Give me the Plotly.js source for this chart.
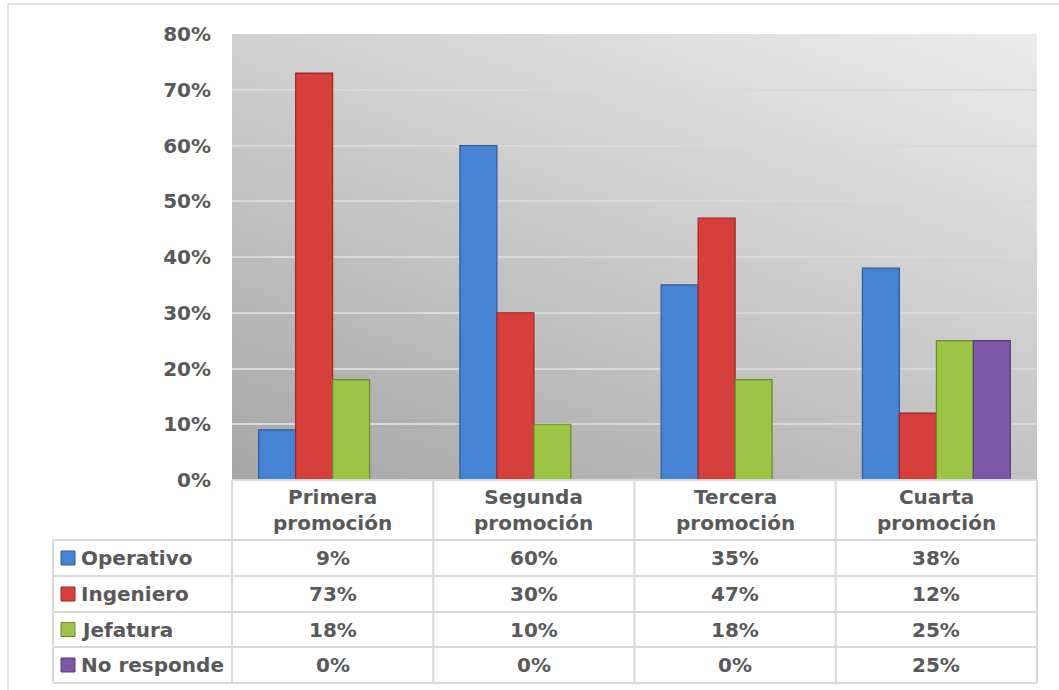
<!DOCTYPE html>
<html>
<head>
<meta charset="utf-8">
<script src="https://cdn.plot.ly/plotly-3.0.1.min.js"></script>
<style>html,body{margin:0;padding:0;background:#fff;}#chart{width:1059px;height:690px;}</style>
</head>
<body>
<div id="chart"></div>
<script>
// ---- data ----
const categories = ['Primera promoción', 'Segunda promoción', 'Tercera promoción', 'Cuarta promoción'];
const categoryLabels = ['Primera<br>promoción', 'Segunda<br>promoción', 'Tercera<br>promoción', 'Cuarta<br>promoción'];
const seriesNames = ['Operativo', 'Ingeniero', 'Jefatura', 'No responde'];
const operativo = [0.09, 0.60, 0.35, 0.38];
const ingeniero = [0.73, 0.30, 0.47, 0.12];
const jefatura = [0.18, 0.10, 0.18, 0.25];
const noResponde = [0.00, 0.00, 0.00, 0.25];
const yTicks = [0, 0.1, 0.2, 0.3, 0.4, 0.5, 0.6, 0.7, 0.8];

// ---- style ----
const seriesValues = [operativo, ingeniero, jefatura, noResponde];
const fills = ['#4683d3', '#d63f3b', '#9dc545', '#7d58a8'];
const edges = ['#2a5a9e', '#9c2624', '#6a8a25', '#553a7c'];
const FONT = 'DejaVu Sans, Arial, sans-serif';
const TXT = '#595959';
const GRID = '#d9d9d9';

const W = 1059, H = 690;
const L = 232, R = 1037, T = 34, B = 480;
const px = p => (p - L) / (R - L);
const py = p => (B - p) / (B - T);

const traces = seriesNames.map((name, i) => ({
  type: 'bar',
  name: name,
  x: categories,
  y: seriesValues[i],
  marker: {
    color: fills[i],
    line: { color: edges[i], width: seriesValues[i].map(v => v > 0 ? 1.2 : 0) }
  },
  hoverinfo: 'skip'
}));

const shapes = [];
const annotations = [];
const line = (x0, y0, x1, y1, color, w) => shapes.push({
  type: 'line', xref: 'paper', yref: 'paper',
  x0: px(x0), y0: py(y0), x1: px(x1), y1: py(y1),
  line: { color: color || GRID, width: w || 2 }, layer: 'above'
});

// outer chart border
line(8, 4, 1062, 4, '#d9d9d9', 1.5);
line(8, 4, 8, 694, '#d9d9d9', 1.5);

// data table grid
const colX = [0, 1, 2, 3, 4].map(k => L + k * (R - L) / 4);
const rowY = [540, 576, 612, 647, 683];
line(L, B, R, B);
rowY.forEach(y => line(53, y, R, y));
line(53, rowY[0], 53, rowY[rowY.length - 1]);
colX.forEach(x => line(x, B, x, rowY[rowY.length - 1]));

// header labels
categoryLabels.forEach((lab, k) => annotations.push({
  xref: 'paper', yref: 'paper', x: px((colX[k] + colX[k + 1]) / 2), y: py(510),
  text: lab, showarrow: false, xanchor: 'center', yanchor: 'middle',
  font: { family: FONT, size: 20, color: TXT, weight: 'bold' }
}));

// rows
seriesNames.forEach((name, i) => {
  const yc = (rowY[i] + rowY[i + 1]) / 2;
  shapes.push({
    type: 'rect', xref: 'paper', yref: 'paper',
    x0: px(61), x1: px(75), y0: py(yc - 7), y1: py(yc + 7),
    fillcolor: fills[i], line: { color: edges[i], width: 1 }, layer: 'above'
  });
  annotations.push({
    xref: 'paper', yref: 'paper', x: px(79), y: py(yc),
    text: name, showarrow: false, xanchor: 'left', yanchor: 'middle',
    font: { family: FONT, size: 20, color: TXT, weight: 'bold' }
  });
  seriesValues[i].forEach((v, k) => annotations.push({
    xref: 'paper', yref: 'paper', x: px((colX[k] + colX[k + 1]) / 2), y: py(yc),
    text: Math.round(v * 100) + '%', showarrow: false, xanchor: 'center', yanchor: 'middle',
    font: { family: FONT, size: 20, color: TXT, weight: 'bold' }
  }));
});

// plot-area gradient background
const svg = '<svg xmlns="http://www.w3.org/2000/svg" width="805" height="446" viewBox="0 0 805 446" preserveAspectRatio="none">' +
  '<defs><linearGradient id="g" x1="0" y1="1" x2="0.769" y2="-0.154">' +
  '<stop offset="0" stop-color="#a6a6a6"/><stop offset="1" stop-color="#ececec"/></linearGradient></defs>' +
  '<rect width="805" height="446" fill="url(#g)"/></svg>';

const layout = {
  width: W, height: H,
  margin: { l: L, r: W - R, t: T, b: H - B, pad: 0 },
  paper_bgcolor: '#ffffff',
  plot_bgcolor: 'rgba(0,0,0,0)',
  showlegend: false,
  barmode: 'group',
  bargap: 0.265,
  bargroupgap: 0,
  images: [{
    source: 'data:image/svg+xml;charset=utf-8,' + encodeURIComponent(svg),
    xref: 'paper', yref: 'paper', x: 0, y: 1, sizex: 1, sizey: 1,
    xanchor: 'left', yanchor: 'top', sizing: 'stretch', layer: 'below'
  }],
  xaxis: {
    type: 'category', showticklabels: false, showgrid: false, zeroline: false,
    showline: false, ticks: '', fixedrange: true
  },
  yaxis: {
    range: [0, 0.8], tickvals: yTicks, ticktext: yTicks.map(v => Math.round(v * 100) + '%'),
    showgrid: true, gridcolor: GRID, gridwidth: 2, zeroline: false, showline: false,
    ticks: '', ticklabelstandoff: 20,
    tickfont: { family: FONT, size: 20, color: TXT, weight: 'bold' }, fixedrange: true
  },
  shapes: shapes,
  annotations: annotations
};

Plotly.newPlot('chart', traces, layout, { displayModeBar: false, staticPlot: true });
</script>
</body>
</html>
